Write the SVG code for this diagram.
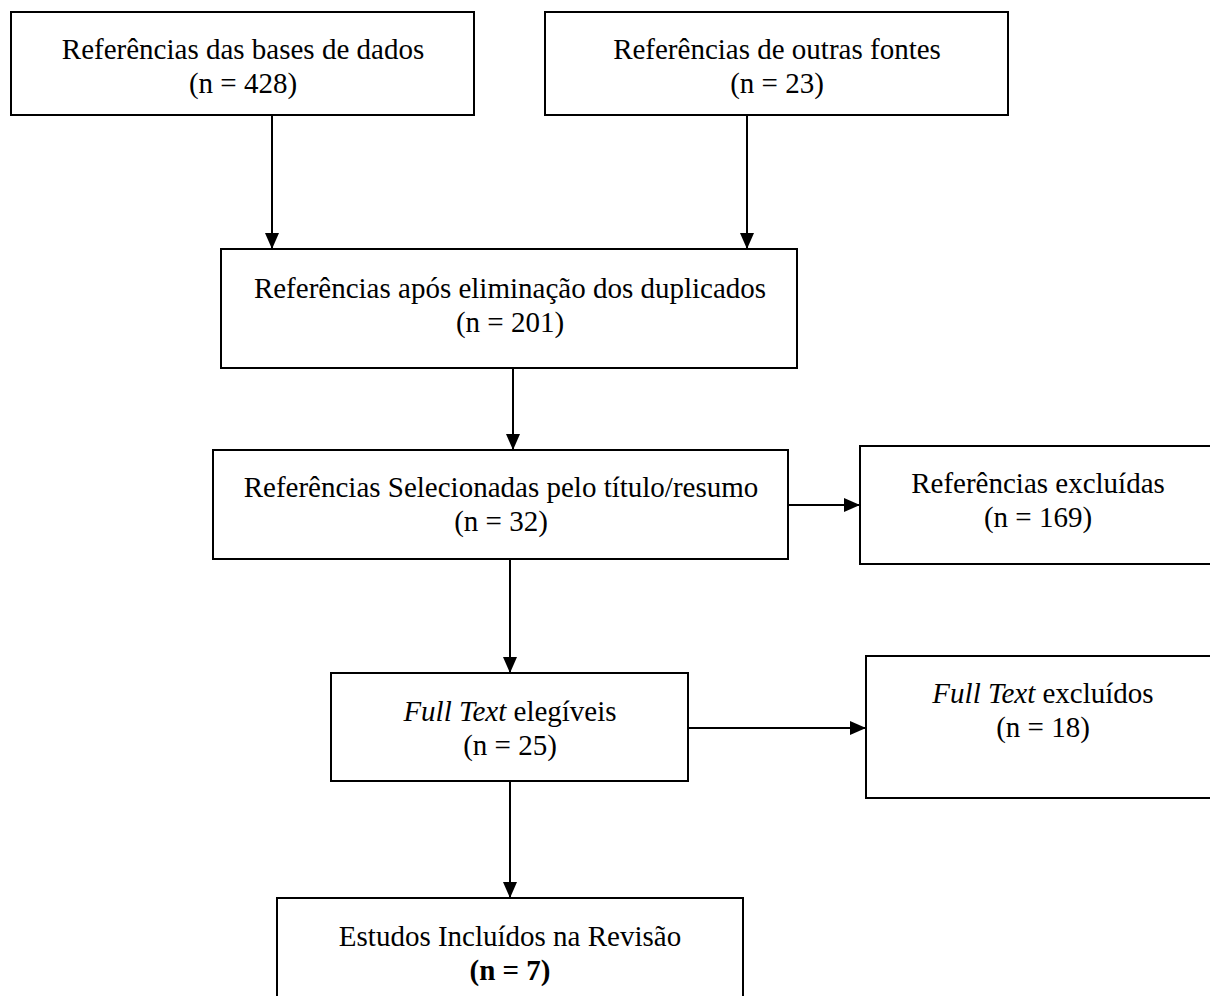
<svg xmlns="http://www.w3.org/2000/svg" width="1210" height="996" viewBox="0 0 1210 996">
<style>
.box{fill:#fff;stroke:#000;stroke-width:2}
.t{font-family:"Liberation Serif","Times New Roman",serif;font-size:29px;fill:#000;text-anchor:middle}
.c{stroke:#000;stroke-width:2;fill:none;marker-end:url(#ah)}
</style>
<defs>
<marker id="ah" viewBox="0 0 16 14" refX="16" refY="7" markerWidth="16" markerHeight="14" markerUnits="userSpaceOnUse" orient="auto">
<path d="M0,0 L16,7 L0,14 Z" fill="#000"/>
</marker>
</defs>
<rect width="1210" height="996" fill="#fff"/>
<g id="connectors">
<line class="c" x1="272" y1="115" x2="272" y2="249"/>
<line class="c" x1="747" y1="115" x2="747" y2="249"/>
<line class="c" x1="513" y1="368" x2="513" y2="450"/>
<line class="c" x1="788" y1="505" x2="860" y2="505"/>
<line class="c" x1="510" y1="559" x2="510" y2="673"/>
<line class="c" x1="688" y1="728" x2="866" y2="728"/>
<line class="c" x1="510" y1="781" x2="510" y2="898"/>
</g>
<g id="n1"><rect class="box" x="11" y="12" width="463" height="103"/>
<text class="t" x="243" y="59">Referências das bases de dados</text>
<text class="t" x="243" y="93">(n = 428)</text></g>
<g id="n2"><rect class="box" x="545" y="12" width="463" height="103"/>
<text class="t" x="777" y="59">Referências de outras fontes</text>
<text class="t" x="777" y="93">(n = 23)</text></g>
<g id="n3"><rect class="box" x="221" y="249" width="576" height="119"/>
<text class="t" x="510" y="298">Referências após eliminação dos duplicados</text>
<text class="t" x="510" y="332">(n = 201)</text></g>
<g id="n4"><rect class="box" x="213" y="450" width="575" height="109"/>
<text class="t" x="501" y="497">Referências Selecionadas pelo título/resumo</text>
<text class="t" x="501" y="531">(n = 32)</text></g>
<g id="n5"><rect class="box" x="860" y="446" width="360" height="118"/>
<text class="t" x="1038" y="493">Referências excluídas</text>
<text class="t" x="1038" y="527">(n = 169)</text></g>
<g id="n6"><rect class="box" x="331" y="673" width="357" height="108"/>
<text class="t" x="510" y="721"><tspan font-style="italic">Full Text</tspan> elegíveis</text>
<text class="t" x="510" y="755">(n = 25)</text></g>
<g id="n7"><rect class="box" x="866" y="656" width="354" height="142"/>
<text class="t" x="1043" y="703"><tspan font-style="italic">Full Text</tspan> excluídos</text>
<text class="t" x="1043" y="737">(n = 18)</text></g>
<g id="n8"><rect class="box" x="277" y="898" width="466" height="110"/>
<text class="t" x="510" y="946">Estudos Incluídos na Revisão</text>
<text class="t" x="510" y="980" font-weight="bold">(n = 7)</text></g>
</svg>
